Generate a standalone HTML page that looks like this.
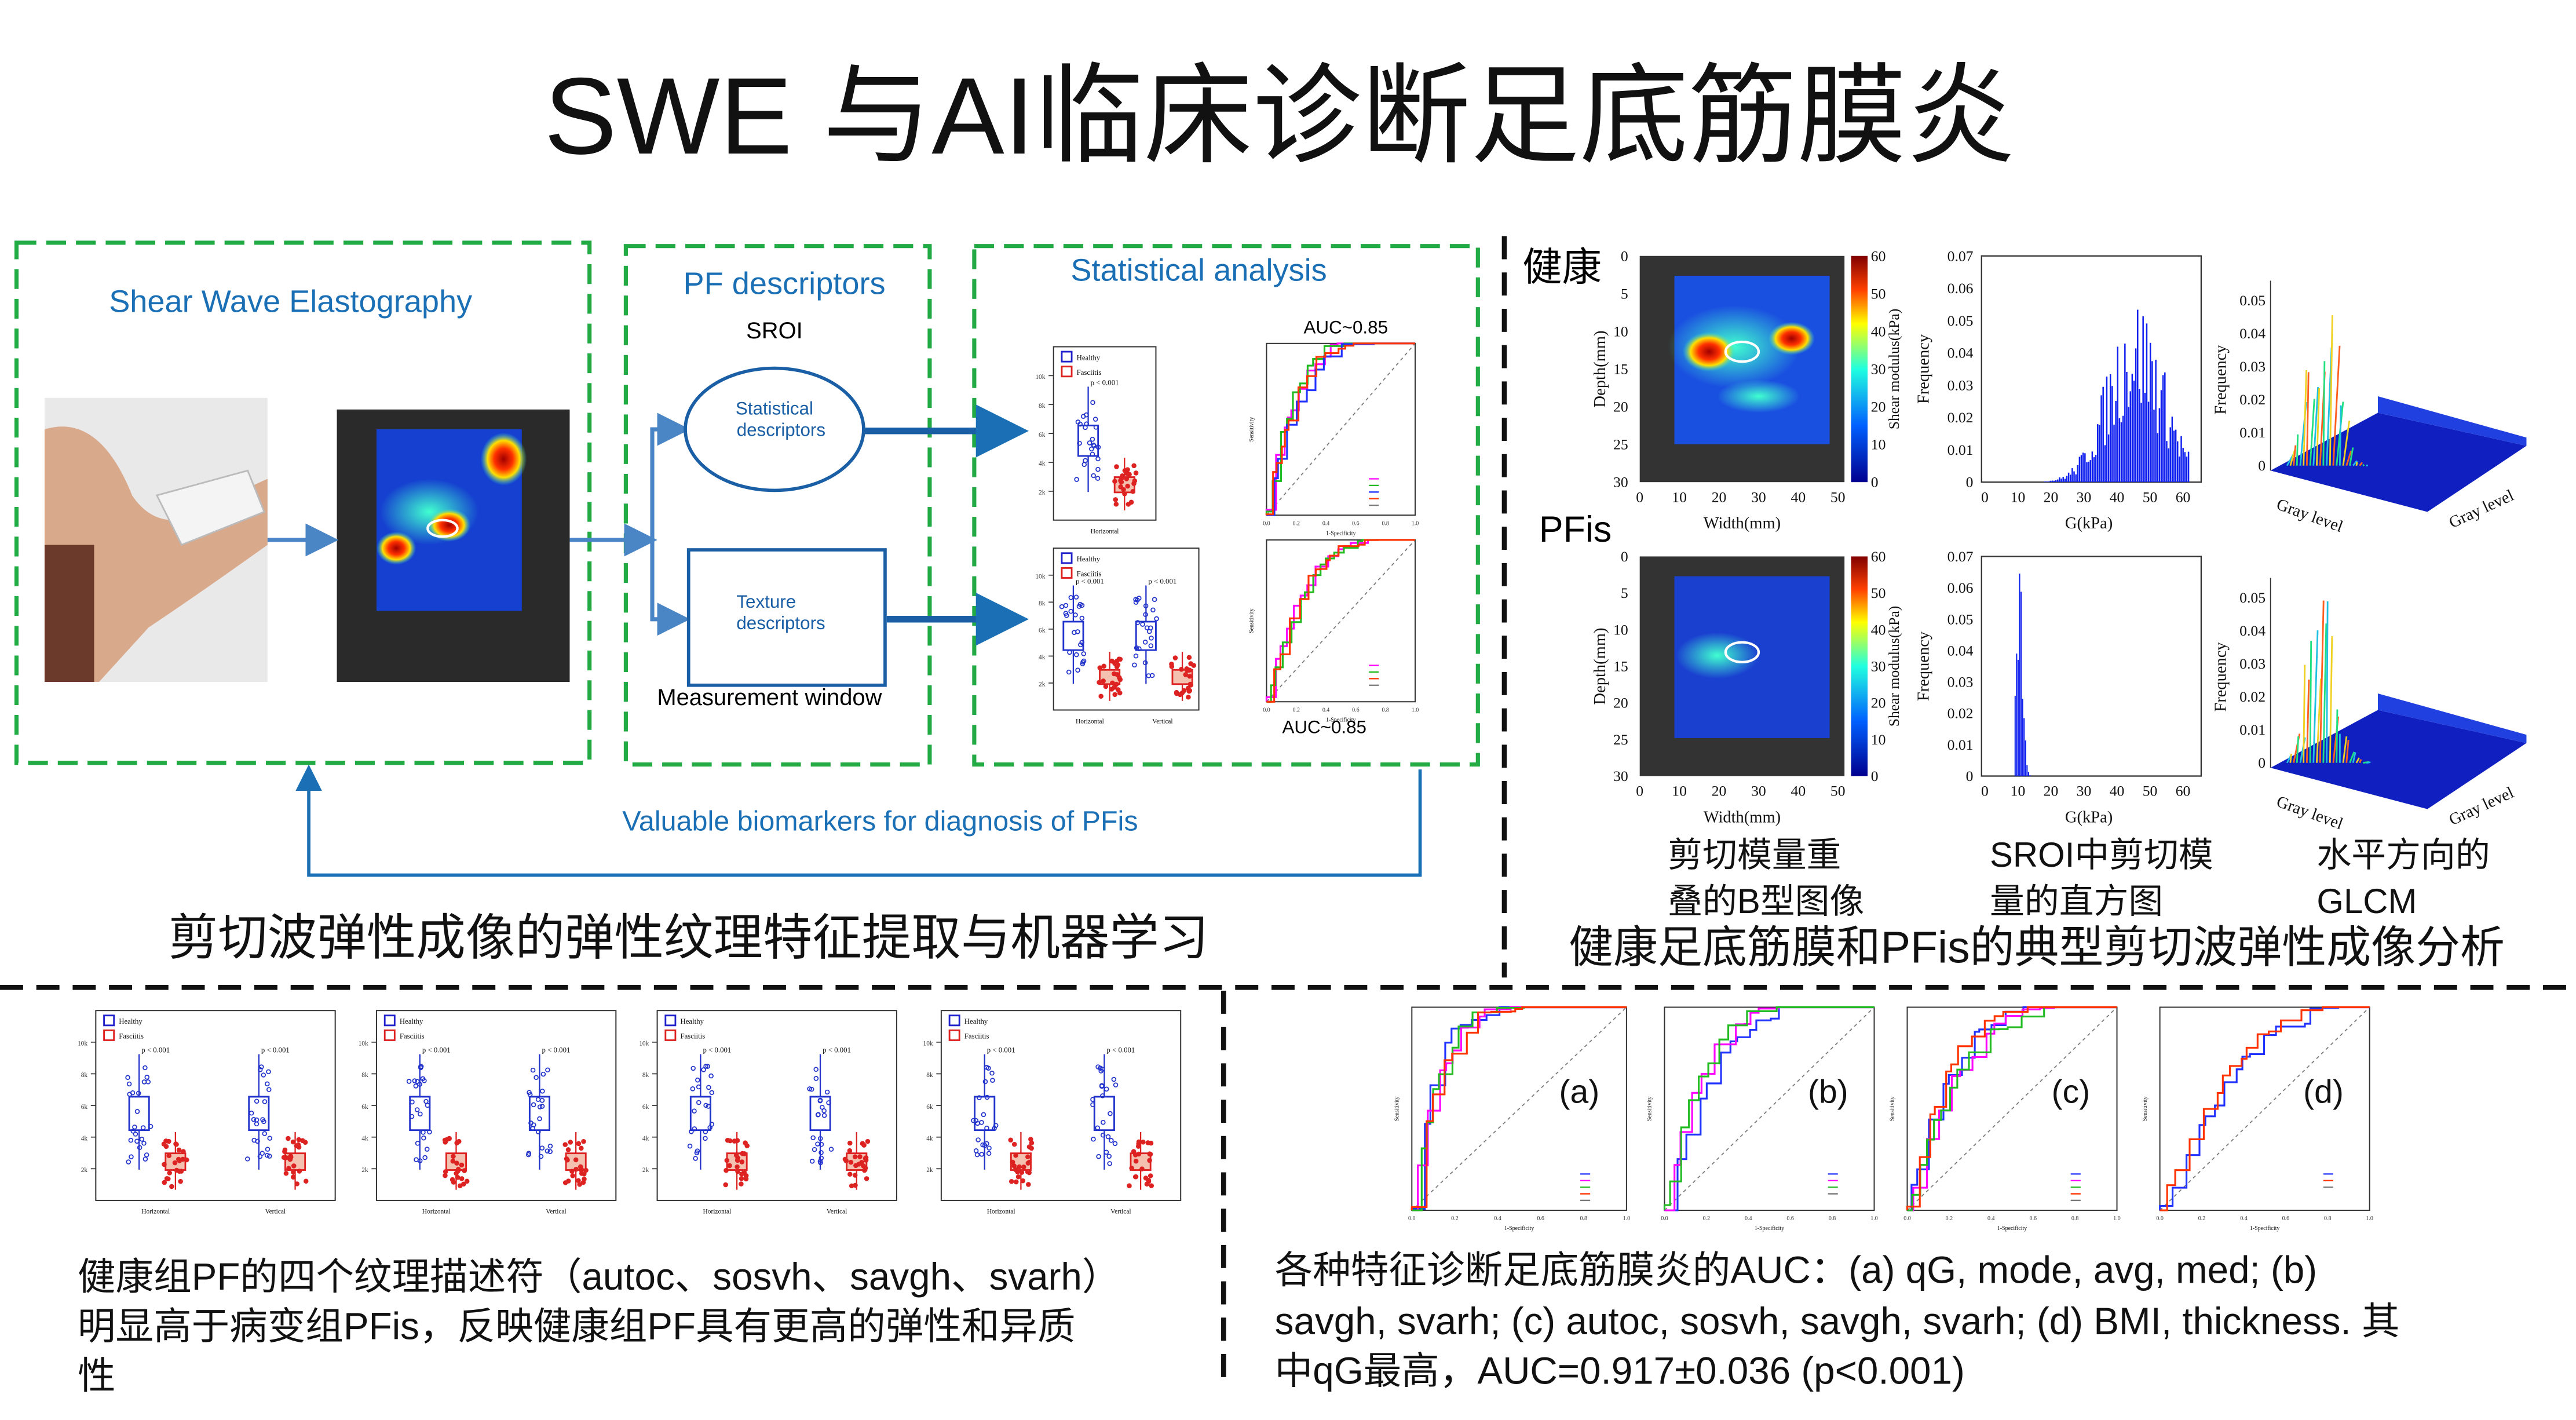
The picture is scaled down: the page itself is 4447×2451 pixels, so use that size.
<!DOCTYPE html>
<html><head><meta charset="utf-8">
<style>
html,body{margin:0;padding:0;background:#fff;}
svg{display:block;}
text{font-family:"Liberation Sans","Noto Sans CJK SC",sans-serif;}
.s{font-family:"Liberation Serif",serif;}
</style></head>
<body>
<svg id="g" width="4447" height="2451" viewBox="0 0 1560 860" preserveAspectRatio="none" xmlns="http://www.w3.org/2000/svg">
<defs>
<linearGradient id="cb" x1="0" y1="1" x2="0" y2="0">
<stop offset="0" stop-color="#00008f"/><stop offset="0.25" stop-color="#0060ff"/><stop offset="0.5" stop-color="#20ffe0"/><stop offset="0.7" stop-color="#ffff00"/><stop offset="0.85" stop-color="#ff4000"/><stop offset="1" stop-color="#800000"/>
</linearGradient>
<radialGradient id="hot"><stop offset="0" stop-color="#a00000"/><stop offset="0.4" stop-color="#ff3000"/><stop offset="0.7" stop-color="#ffe000"/><stop offset="1" stop-color="#30e0d0" stop-opacity="0"/></radialGradient>
<radialGradient id="cy"><stop offset="0" stop-color="#40ffd0"/><stop offset="1" stop-color="#40ffd0" stop-opacity="0"/></radialGradient>
<marker id="ar" markerWidth="8" markerHeight="8" refX="6" refY="4" orient="auto"><path d="M0,0 L8,4 L0,8 z" fill="#4a86c5"/></marker>
<marker id="ar2" markerWidth="8" markerHeight="8" refX="6" refY="4" orient="auto"><path d="M0,0 L8,4 L0,8 z" fill="#1a6fb5"/></marker>
</defs>
<rect width="1560" height="860" fill="#fff"/>
<text x="775" y="93" font-size="66" text-anchor="middle" fill="#111">SWE 与AI临床诊断足底筋膜炎</text>

<g fill="none" stroke="#22aa44" stroke-width="2.5" stroke-dasharray="12,6">
<rect x="10" y="147" width="347" height="315"/>
<rect x="379" y="149" width="184" height="314"/>
<rect x="590" y="149" width="305" height="314"/>
</g>
<g fill="#1a6fb5" font-size="19">
<text x="176" y="189" text-anchor="middle">Shear Wave Elastography</text>
<text x="475" y="178" text-anchor="middle">PF descriptors</text>
<text x="726" y="170" text-anchor="middle">Statistical analysis</text>
<text x="533" y="503" text-anchor="middle" font-size="17">Valuable biomarkers for diagnosis of PFis</text>
</g>
<text x="469" y="205" font-size="14" text-anchor="middle">SROI</text>
<text x="466" y="427" font-size="14" text-anchor="middle">Measurement window</text>
<rect x="27" y="241" width="135" height="172" fill="#e9e9e9"/>
<path d="M27,260 Q60,250 80,300 Q100,330 140,300 L162,290 L162,330 Q120,360 90,380 L60,413 L27,413 z" fill="#d9a98c"/>
<path d="M95,300 L150,285 L160,310 L110,330 z" fill="#f4f4f4" stroke="#bbb"/>
<rect x="27" y="330" width="30" height="83" fill="#6b3a2a"/>
<rect x="204" y="248" width="141" height="165" fill="#2a2a2a"/>
<rect x="228" y="260" width="88" height="110" fill="#1540d0"/>
<ellipse cx="260" cy="310" rx="30" ry="20" fill="url(#cy)"/>
<ellipse cx="305" cy="278" rx="14" ry="16" fill="url(#hot)"/>
<ellipse cx="240" cy="332" rx="12" ry="10" fill="url(#hot)"/>
<ellipse cx="272" cy="318" rx="13" ry="10" fill="url(#hot)"/>
<ellipse cx="268" cy="320" rx="9" ry="5" fill="none" stroke="#fff" stroke-width="1.5"/>
<g stroke="#4a86c5" stroke-width="2.5" fill="none">
<line x1="162" y1="327" x2="200" y2="327" marker-end="url(#ar)"/>
<line x1="345" y1="327" x2="393" y2="327" marker-end="url(#ar)"/>
<path d="M395,327 L395,260 L413,260" marker-end="url(#ar)"/>
<path d="M395,327 L395,375 L413,375" marker-end="url(#ar)"/>
</g>
<g stroke="#1a5fa5" stroke-width="4" fill="none">
<line x1="523" y1="261" x2="615" y2="261" marker-end="url(#ar2)"/>
<line x1="537" y1="375" x2="615" y2="375" marker-end="url(#ar2)"/>
</g>
<ellipse cx="469" cy="260" rx="54" ry="37" fill="#fff" stroke="#1a5fa5" stroke-width="2"/>
<text x="469" y="251" font-size="11" fill="#1a5fa5" text-anchor="middle">Statistical</text>
<text x="473" y="264" font-size="11" fill="#1a5fa5" text-anchor="middle">descriptors</text>
<rect x="417" y="333" width="119" height="82" fill="#fff" stroke="#1a5fa5" stroke-width="2"/>
<text x="446" y="368" font-size="11" fill="#1a5fa5">Texture</text>
<text x="446" y="381" font-size="11" fill="#1a5fa5">descriptors</text>
<text x="815" y="202" font-size="11" text-anchor="middle">AUC~0.85</text>
<text x="802" y="444" font-size="11" text-anchor="middle">AUC~0.85</text>
<path d="M860,466 L860,530 L187,530 L187,467" fill="none" stroke="#1a6fb5" stroke-width="2" marker-end="url(#ar2)"/>
<text x="102" y="578" font-size="30" fill="#111">剪切波弹性成像的弹性纹理特征提取与机器学习</text>

<g stroke="#111" stroke-width="3" stroke-dasharray="14,8" fill="none">
<line x1="911" y1="143" x2="911" y2="592"/>
<line x1="0" y1="598" x2="1560" y2="598"/>
<line x1="741" y1="600" x2="741" y2="840"/>
</g>

<text x="922" y="170" font-size="24">健康</text>
<text x="932" y="328" font-size="22">PFis</text>
<g font-size="21" fill="#111">
<text x="1010" y="525">剪切模量重</text><text x="1010" y="553">叠的B型图像</text>
<text x="1205" y="525">SROI中剪切模</text><text x="1205" y="553">量的直方图</text>
<text x="1403" y="525">水平方向的</text><text x="1403" y="553">GLCM</text>
</g>
<text x="950" y="583" font-size="27" fill="#111">健康足底筋膜和PFis的典型剪切波弹性成像分析</text>

<g id="dyn"></g>

<g font-size="23" fill="#111">
<text x="47" y="781">健康组PF的四个纹理描述符（autoc、sosvh、savgh、svarh）</text>
<text x="47" y="811">明显高于病变组PFis，反映健康组PF具有更高的弹性和异质</text>
<text x="47" y="841">性</text>
<text x="772" y="777">各种特征诊断足底筋膜炎的AUC：(a) qG, mode, avg, med; (b)</text>
<text x="772" y="808">savgh, svarh; (c) autoc, sosvh, savgh, svarh; (d) BMI, thickness. 其</text>
<text x="772" y="838">中qG最高，AUC=0.917±0.036 (p&lt;0.001)</text>
</g>
</svg>
<script>
var NS="http://www.w3.org/2000/svg",D=document.getElementById("dyn");
var seed=7;function R(){seed=(seed*16807)%2147483647;return (seed-1)/2147483646;}
function el(t,a,p){var e=document.createElementNS(NS,t);for(var k in a)e.setAttribute(k,a[k]);(p||D).appendChild(e);return e;}
function tx(x,y,s,f,c,anc,rot){var e=el("text",{x:x,y:y,"font-size":f,fill:c||"#111","class":"s","text-anchor":anc||"start"});if(rot)e.setAttribute("transform","rotate(-90 "+x+" "+y+")");e.textContent=s;return e;}
function bp(x0,y0,w,h,groups){
 el("rect",{x:x0,y:y0,width:w,height:h,fill:"none",stroke:"#333","stroke-width":0.7});
 for(var i=1;i<6;i++){el("line",{x1:x0-3,y1:y0+h*i/6,x2:x0,y2:y0+h*i/6,stroke:"#333","stroke-width":0.6});tx(x0-5,y0+h*i/6+2,(12-2*i)+"k",4,"#333","end");}
 el("rect",{x:x0+5,y:y0+3,width:6,height:6,fill:"none",stroke:"#22c"});el("rect",{x:x0+5,y:y0+12,width:6,height:6,fill:"none",stroke:"#d22"});
 tx(x0+14,y0+8,"Healthy",4.5);tx(x0+14,y0+17,"Fasciitis",4.5);
 for(var g=0;g<groups;g++){
  var cx=x0+w*(g*2+1)/(groups*2);
  tx(cx,y0+h*0.22,"p < 0.001",4.5,"#111","middle");
  [[-10,"#2233cc",0.55,0.32],[12,"#dd2222",0.8,0.16]].forEach(function(q){
   var bx=cx+q[0],my=y0+h*q[2],bh=h*q[3];
   el("line",{x1:bx,y1:my-bh,x2:bx,y2:my+bh*0.9,stroke:q[1],"stroke-width":0.8});
   el("rect",{x:bx-6,y:my-bh*0.3,width:12,height:bh*0.55,fill:q[1]=="#dd2222"?"#f4c0b0":"#fff",stroke:q[1],"stroke-width":1});
   for(var k=0;k<24;k++)el("circle",{cx:bx+(R()-0.5)*14,cy:my+(R()-0.5)*bh*1.6,r:1.2,fill:q[1]=="#dd2222"?q[1]:"none",stroke:q[1],"stroke-width":0.6});
  });
  tx(cx,y0+h+8,g?"Vertical":"Horizontal",4,"#111","middle");
 }
}
function roc(x0,y0,w,h,cols,lab,k0){
 el("rect",{x:x0,y:y0,width:w,height:h,fill:"none",stroke:"#333","stroke-width":0.7});
 el("line",{x1:x0,y1:y0+h,x2:x0+w,y2:y0,stroke:"#777","stroke-width":0.6,"stroke-dasharray":"2,2"});
 cols.forEach(function(c,j){
  var k=(k0||5)*(0.8+0.4*R());
  var fx=0,fy=0,d="M"+x0+","+(y0+h);
  while(fx<1){
   var target=1-Math.pow(1-Math.min(fx,1),k);
   target=Math.min(1,target+ (R()-0.5)*0.08);
   if(target>fy){fy=target;d+=" L"+(x0+fx*w)+","+(y0+h-fy*h);}
   fx+=0.02+R()*0.05;if(fx>1)fx=1;
   d+=" L"+(x0+fx*w)+","+(y0+h-fy*h);
   if(fx>=1)break;
  }
  d+=" L"+(x0+w)+","+y0;
  el("path",{d:d,fill:"none",stroke:c,"stroke-width":1.1});});
 for(var i=0;i<=5;i++){tx(x0+w*i/5,y0+h+6,(i/5).toFixed(1),3.5,"#333","middle");}
 tx(x0+w/2,y0+h+12,"1-Specificity",3.5,"#111","middle");
 tx(x0-8,y0+h/2,"Sensitivity",3.5,"#111","middle",1);
 for(var q=0;q<cols.length+1;q++){el("line",{x1:x0+w-28,y1:y0+h-22+q*4,x2:x0+w-22,y2:y0+h-22+q*4,stroke:cols[q]||"#777","stroke-width":0.8});}
 if(lab)tx(x0+w*0.78,y0+h*0.47,lab,20,"#111","middle").setAttribute("class","");
}
bp(638,210,62,105,1);
roc(767,208,90,104,["#ff00ff","#22bb22","#2233ff","#ff3300"],null,5);
bp(638,332,88,98,2);
roc(767,327,90,98,["#ff00ff","#22bb22","#ff3300"],null,4);
[[58,612],[228,612],[398,612],[570,612]].forEach(function(p){bp(p[0],p[1],145,115,2);});
roc(855,610,130,123,["#2233ff","#ff00ff","#22bb22","#ff3300"],"(a)",9);
roc(1008,610,127,123,["#2233ff","#ff00ff","#22bb22"],"(b)",5);
roc(1155,610,127,123,["#2233ff","#ff00ff","#22bb22","#ff3300"],"(c)",5);
roc(1308,610,127,123,["#2233ff","#ff3300"],"(d)",3);
function us(y,h,hot){
 el("rect",{x:993,y:y,width:124,height:h,fill:"#333"});
 el("rect",{x:1014,y:y+12,width:94,height:h-35,fill:hot?"#1a50e0":"#1a40d0"});
 if(hot){el("ellipse",{cx:1050,cy:y+55,rx:40,ry:25,fill:"url(#cy)"});el("ellipse",{cx:1035,cy:y+58,rx:16,ry:12,fill:"url(#hot)"});el("ellipse",{cx:1085,cy:y+50,rx:14,ry:10,fill:"url(#hot)"});el("ellipse",{cx:1065,cy:y+85,rx:25,ry:10,fill:"url(#cy)"});}
 else{el("ellipse",{cx:1040,cy:y+60,rx:25,ry:14,fill:"url(#cy)"});}
 el("ellipse",{cx:1055,cy:y+58,rx:10,ry:6,fill:"none",stroke:"#fff","stroke-width":1.5});
 el("rect",{x:1121,y:y,width:10,height:h,fill:"url(#cb)"});
 for(var i=0;i<=6;i++){tx(1133,y+h-h*i/6+3,String(i*10),9,"#111");tx(986,y+h*i/6+3,String(i*5),9,"#111","end");}
 tx(1150,y+h/2,"Shear modulus(kPa)",9,"#111","middle",1);tx(972,y+h/2,"Depth(mm)",10,"#111","middle",1);
 for(var i=0;i<6;i++)tx(993+i*24,y+h+12,String(i*10),9,"#111","middle");
 tx(1055,y+h+28,"Width(mm)",10,"#111","middle");
}
us(155,137,1);us(337,133,0);
function hist(y,h,wide){
 el("rect",{x:1200,y:y,width:133,height:h,fill:"none",stroke:"#333","stroke-width":0.8});
 for(var i=0;i<=7;i++)tx(1195,y+h-h*i/7+3,i==0?"0":"0.0"+i,9,"#111","end");
 for(var i=0;i<=6;i++)tx(1202+i*20,y+h+12,String(i*10),9,"#111","middle");
 tx(1265,y+h+28,"G(kPa)",10,"#111","middle");tx(1168,y+h/2,"Frequency",10,"#111","middle",1);
 var n=wide?80:12,x0=wide?1238:1220,bw=wide?1.1:0.9;
 for(var i=0;i<n;i++){var v=wide?Math.exp(-Math.pow((i-50)/22,2))*h*0.7*(0.4+R()*0.8):Math.exp(-Math.pow((i-3)/3,2))*h*0.95*(0.5+R()*0.6);
  el("rect",{x:x0+i*bw,y:y+h-v,width:bw*0.8,height:v,fill:"#1020ee"});}
}
hist(155,137,1);hist(337,133,0);
function glcm(y){
 el("path",{d:"M1375,"+(y+115)+" L1470,"+(y+140)+" L1530,"+(y+100)+" L1440,"+(y+80)+" z",fill:"#1020c0"});
 el("path",{d:"M1440,"+(y+80)+" L1530,"+(y+100)+" L1530,"+(y+95)+" L1440,"+(y+70)+" z",fill:"#2040e0"});
 for(var i=0;i<25;i++){var x=1385+i*2,hh=Math.exp(-Math.pow((i-10)/6,2))*80*(0.5+R());el("line",{x1:x,y1:y+112,x2:x+R()*4,y2:y+112-hh,stroke:["#20c0e0","#f0d020","#ff6020","#20e080"][i%4],"stroke-width":1});}
 el("line",{x1:1375,y1:y,x2:1375,y2:y+115,stroke:"#333","stroke-width":0.6});
 for(var i=0;i<=5;i++)tx(1372,y+115-i*20,i?"0.0"+i:"0",9,"#111","end");
 tx(1348,y+60,"Frequency",10,"#111","middle",1);
 var t=tx(1378,y+138,"Gray level",10);t.setAttribute("transform","rotate(20 1378 "+(y+138)+")");
 var t2=tx(1485,y+150,"Gray level",10);t2.setAttribute("transform","rotate(-25 1485 "+(y+150)+")");
}
glcm(170);glcm(350);
</script>
</body></html>
